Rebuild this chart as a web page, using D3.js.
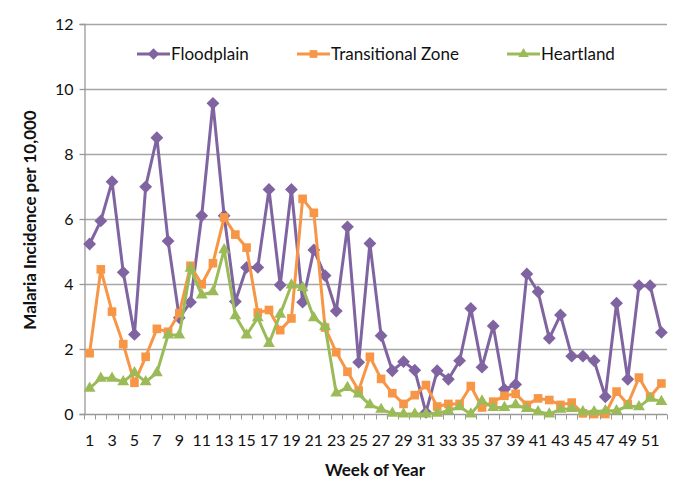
<!DOCTYPE html>
<html><head><meta charset="utf-8">
<script src="https://cdn.jsdelivr.net/npm/d3@7"></script>
<style>body{margin:0;background:#fff}svg{display:block}text{font-family:Lato,"Open Sans",sans-serif}</style>
</head><body><svg id="c" width="685" height="497"></svg>
<script>
const weeks = d3.range(1, 53);
const xTickLabels = d3.range(1, 52, 2);
const yTicks = [0, 2, 4, 6, 8, 10, 12];
const seriesNames = ["Floodplain", "Transitional Zone", "Heartland"];
const floodplain = [5.23,5.94,7.15,4.36,2.45,6.99,8.50,5.32,2.96,3.44,6.10,9.56,6.10,3.46,4.51,4.51,6.91,3.97,6.91,3.44,5.05,4.26,3.17,5.76,1.59,5.25,2.41,1.33,1.61,1.35,0.05,1.33,1.07,1.64,3.25,1.44,2.71,0.76,0.91,4.31,3.76,2.33,3.05,1.78,1.78,1.64,0.53,3.41,1.07,3.95,3.95,2.51];
const transitional = [1.87,4.45,3.15,2.15,0.96,1.76,2.62,2.53,3.10,4.56,3.99,4.64,6.05,5.52,5.12,3.12,3.20,2.58,2.94,6.62,6.19,2.66,1.90,1.30,0.72,1.76,1.08,0.64,0.31,0.58,0.89,0.23,0.31,0.31,0.86,0.20,0.38,0.56,0.62,0.28,0.48,0.43,0.28,0.35,0.02,0.0,0.0,0.69,0.30,1.12,0.53,0.94];
const heartland = [0.79,1.10,1.10,0.99,1.27,0.99,1.27,2.43,2.43,4.48,3.66,3.76,5.05,3.02,2.43,2.96,2.17,3.07,3.97,3.89,2.96,2.69,0.64,0.81,0.61,0.28,0.14,0.02,0.0,0.0,0.0,0.02,0.10,0.22,0.0,0.40,0.20,0.20,0.28,0.17,0.07,0.0,0.14,0.17,0.07,0.07,0.10,0.10,0.25,0.22,0.48,0.38];
const colors = ["#8064A2", "#F79646", "#9BBB59"];
const symbols = [d3.symbolDiamond2, d3.symbolSquare2, d3.symbolTriangle2];
const symSizes = [105, 95, 100];

const svg = d3.select("#c");
const L = 84, R = 667, T = 24, B = 414;
const x = d3.scaleBand().domain(weeks).range([L, R]);
const y = d3.scaleLinear().domain([0, 12]).range([B, T]);

svg.append("g").selectAll("line").data(yTicks.filter(d => d > 0)).join("line")
  .attr("x1", L).attr("x2", R).attr("y1", d => y(d) + 0.5).attr("y2", d => y(d) + 0.5)
  .attr("stroke", "#a6a6a6").attr("stroke-width", 1.3);

const ya = svg.append("g").attr("transform", `translate(${L + 0.5},0)`)
  .call(d3.axisLeft(y).tickValues(yTicks).tickSize(5).tickPadding(6).tickFormat(d3.format("d")));
ya.select(".domain").attr("stroke", "#999").attr("stroke-width", 1.3);
ya.selectAll(".tick line").attr("stroke", "#999").attr("stroke-width", 1.3);
ya.selectAll(".tick text").attr("font-size", 16).attr("fill", "#111").style("font-family", "Lato, sans-serif");

const xa = svg.append("g").attr("transform", `translate(0,${B + 0.5})`);
xa.append("line").attr("x1", L).attr("x2", R).attr("stroke", "#999").attr("stroke-width", 1.3);
const bounds = weeks.map(w => x(w)).concat([R]);
xa.selectAll("line.b").data(bounds).join("line").attr("class", "b")
  .attr("x1", d => Math.round(d) + 0.5).attr("x2", d => Math.round(d) + 0.5).attr("y1", 0).attr("y2", 5)
  .attr("stroke", "#999").attr("stroke-width", 1);
xa.selectAll("text").data(xTickLabels).join("text")
  .attr("x", d => x(d) + x.bandwidth() / 2).attr("y", 31)
  .attr("text-anchor", "middle").attr("font-size", 16).attr("fill", "#111").text(d => d);

const allSeries = [floodplain, transitional, heartland];
const line = d3.line().x((d, i) => x(weeks[i]) + x.bandwidth() / 2).y(d => y(d));
allSeries.forEach((s, k) => {
  const g = svg.append("g");
  g.append("path").datum(s).attr("d", line).attr("fill", "none")
    .attr("stroke", colors[k]).attr("stroke-width", 3).attr("stroke-linejoin", "round");
  g.selectAll("path.m").data(s).join("path").attr("class", "m")
    .attr("transform", (d, i) => `translate(${x(weeks[i]) + x.bandwidth() / 2},${y(d)})`)
    .attr("d", d3.symbol(symbols[k], symSizes[k])).attr("fill", colors[k]);
});

const legX = [137, 297, 507];
seriesNames.forEach((n, k) => {
  const g = svg.append("g").attr("transform", `translate(${legX[k]},54)`);
  g.append("line").attr("x1", 0).attr("x2", 33).attr("stroke", colors[k]).attr("stroke-width", 3);
  g.append("path").attr("transform", "translate(16.5,0)").attr("d", d3.symbol(symbols[k], symSizes[k] * 0.8)).attr("fill", colors[k]);
  g.append("text").attr("x", 34).attr("y", 6).attr("font-size", 17).attr("fill", "#111").text(n);
});

svg.append("text").attr("x", 375).attr("y", 476).attr("text-anchor", "middle")
  .attr("font-size", 17).attr("font-weight", "bold").attr("fill", "#111").text("Week of Year");
svg.append("text").attr("transform", "translate(36,220) rotate(-90)").attr("text-anchor", "middle")
  .attr("font-size", 17).attr("font-weight", "bold").attr("fill", "#111").text("Malaria Incidence per 10,000");
</script></body></html>
